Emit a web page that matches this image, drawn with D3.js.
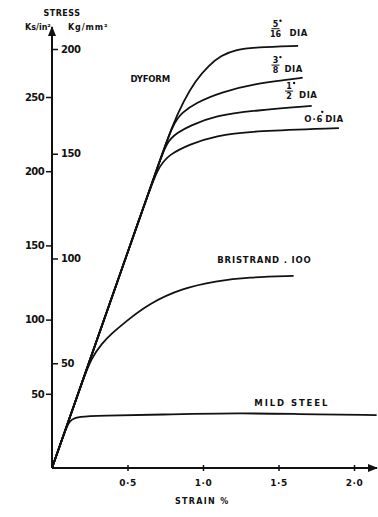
<!DOCTYPE html>
<html>
<head>
<meta charset="utf-8">
<script src="https://cdn.jsdelivr.net/npm/d3@7"></script>
<style>
  body { margin: 0; background: #fff; }
  text { font-family: "DejaVu Sans", sans-serif; font-weight: bold; fill: #111; }
</style>
</head>
<body>
<svg id="chart"></svg>
<script>
// ---- data (strain %, stress Ks/in2) ----
const strainTicks = [0.5, 1.0, 1.5, 2.0]
const strainTickLabels = ["0·5", "1·0", "1·5", "2·0"]
const ksiTicks = [50, 100, 150, 200, 250]
const kgTicks = [50, 100, 150, 200]

const mildSteel = [[0,0],[0.05,14.5],[0.1,29],[0.13,33],[0.18,34.6],[0.3,35.2],[0.8,36.2],[1.25,37],[1.6,36.4],[2.15,35.6]]
const bristrand = [[0,0],[0.1,29],[0.2,58],[0.26,74],[0.33,84],[0.4,91],[0.48,98],[0.645,111],[0.86,121],[1.085,126],[1.3,128.6],[1.6,129.4]]
const dyform06 = [[0,0],[0.3,87],[0.6,174],[0.7,203],[0.78,211.5],[0.91,218],[1.08,224],[1.35,227.2],[1.9,229]]
const dyform12 = [[0,0],[0.3,87],[0.6,174],[0.7,203],[0.76,220],[0.83,226],[0.91,230.5],[1.08,237.5],[1.35,241],[1.72,244]]
const dyform38 = [[0,0],[0.3,87],[0.6,174],[0.7,203],[0.8,232],[0.86,239.5],[0.95,246],[1.125,253.5],[1.35,259],[1.55,261.5],[1.66,263]]
const dyform516 = [[0,0],[0.3,87],[0.6,174],[0.7,203],[0.8,231.5],[0.87,247],[0.95,261],[1.04,271.5],[1.12,278],[1.22,282],[1.35,283.5],[1.63,284.5]]

const W = 378, H = 517
const svg = d3.select("#chart").attr("width", W).attr("height", H)

const x = d3.scaleLinear().domain([0, 2]).range([52, 354])
const y = d3.scaleLinear().domain([0, 250]).range([468, 97])
const y2 = d3.scaleLinear().domain([0, 200]).range([468, 49])

// arrow heads
const defs = svg.append("defs")
defs.append("marker").attr("id", "arrow")
  .attr("viewBox", "0 0 10 10").attr("refX", 9).attr("refY", 5)
  .attr("markerWidth", 5).attr("markerHeight", 5).attr("orient", "auto")
  .append("path").attr("d", "M0,1 L10,5 L0,9 z").attr("fill", "#111")

// axis lines
svg.append("line").attr("x1", x(0)).attr("y1", y(0)).attr("x2", x(0)).attr("y2", 27)
  .attr("stroke", "#111").attr("stroke-width", 2).attr("marker-end", "url(#arrow)")
svg.append("line").attr("x1", x(0)).attr("y1", y(0)).attr("x2", 377).attr("y2", y(0))
  .attr("stroke", "#111").attr("stroke-width", 2).attr("marker-end", "url(#arrow)")

// left axis (Ks/in2)
const left = svg.append("g").attr("transform", `translate(${x(0)},0)`)
  .call(d3.axisLeft(y).tickValues(ksiTicks).tickSize(6).tickPadding(2))
left.select(".domain").remove()
left.selectAll("line").attr("stroke", "#111").attr("stroke-width", 1.5)
left.selectAll("text").style("font-size", "10px").style("letter-spacing", "-0.6px")

// right axis (Kg/mm2)
const right = svg.append("g").attr("transform", `translate(${x(0)},0)`)
  .call(d3.axisRight(y2).tickValues(kgTicks).tickSize(6).tickPadding(3))
right.select(".domain").remove()
right.selectAll("line").attr("stroke", "#111").attr("stroke-width", 1.5)
right.selectAll("text").style("font-size", "10px").style("letter-spacing", "-0.4px")

// bottom axis
const bottom = svg.append("g").attr("transform", `translate(0,${y(0)})`)
  .call(d3.axisBottom(x).tickValues(strainTicks).tickSize(3).tickPadding(9)
    .tickFormat((d, i) => strainTickLabels[i]))
bottom.select(".domain").remove()
bottom.selectAll("line").attr("y1", -3).attr("stroke", "#111").attr("stroke-width", 1.5)
bottom.selectAll("text").style("font-size", "9px").style("letter-spacing", "0.5px")

// axis titles
svg.append("text").attr("x", 62).attr("y", 16).attr("text-anchor", "middle")
  .style("font-size", "8px").style("letter-spacing", "0.5px").text("STRESS")
svg.append("text").attr("x", 25).attr("y", 30).style("font-size", "8px").text("Ks/in²")
svg.append("text").attr("x", 68).attr("y", 30).style("font-size", "8px")
  .style("letter-spacing", "0.9px").text("Kg/mm²")
svg.append("text").attr("x", 175).attr("y", 504).style("font-size", "8px")
  .style("letter-spacing", "1.3px").text("STRAIN %")

// curves
const line = d3.line().x(d => x(d[0])).y(d => y(d[1])).curve(d3.curveBasis)
const series = [mildSteel, bristrand, dyform06, dyform12, dyform38, dyform516]
svg.append("g").selectAll("path").data(series).join("path")
  .attr("d", line).attr("fill", "none").attr("stroke", "#111").attr("stroke-width", 1.8)

// curve labels
function label(sx, sy, txt, size, spacing) {
  return svg.append("text").attr("x", x(sx)).attr("y", y(sy))
    .style("font-size", size + "px").style("letter-spacing", spacing + "px").text(txt)
}
label(0.52, 260, "DYFORM", 8.5, -0.2)
label(1.34, 42, "MILD STEEL", 8.5, 1.9)
label(1.095, 138, "BRISTRAND . IOO", 8.5, 0.8)
label(1.67, 233, "O·6", 8.5, 1)
label(1.81, 233, "DIA", 8.5, 0.5)

function fraction(sx, sy, num, den, dia) {
  const g = svg.append("g").attr("transform", `translate(${x(sx)},${y(sy)})`)
  g.append("text").attr("x", 0).attr("y", -2).attr("text-anchor", "middle")
    .style("font-size", "8px").text(num)
  g.append("line").attr("x1", -4).attr("x2", 4).attr("y1", 0).attr("y2", 0)
    .attr("stroke", "#111").attr("stroke-width", 1)
  g.append("text").attr("x", 0).attr("y", 8).attr("text-anchor", "middle")
    .style("font-size", "8px").text(den)
  g.append("circle").attr("cx", 5).attr("cy", -8).attr("r", 1.2).attr("fill", "#111")
  g.append("text").attr("x", dia).attr("y", 7).style("font-size", "8.5px")
    .style("letter-spacing", "0.5px").text("DIA")
}
fraction(1.48, 296, "5", "16", 14)
fraction(1.48, 271.5, "3", "8", 9)
fraction(1.57, 254, "1", "2", 10)
// inch mark for 0.6
svg.append("circle").attr("cx", x(1.79)).attr("cy", y(240)).attr("r", 1.2).attr("fill", "#111")
</script>
</body>
</html>
